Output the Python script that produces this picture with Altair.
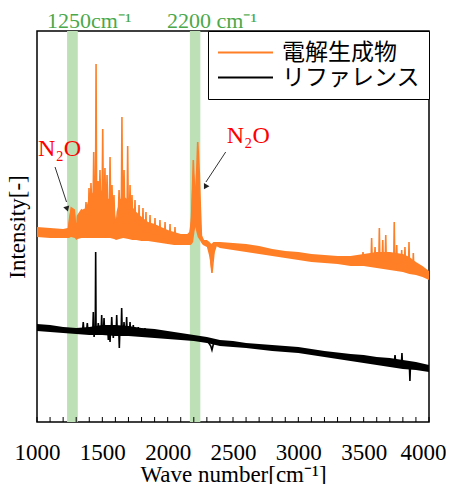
import altair as alt
import pandas as pd

SERIF = "Liberation Serif, Times New Roman, serif"
JP = "Liberation Serif, Noto Sans CJK JP, serif"

# ---- data (x in cm^-1, y in arbitrary intensity units) ----
series_names = ["電解生成物", "リファレンス"]
series_colors = ["#ff7f27", "#000000"]

# noisy band envelope of the orange spectrum
orange_band_x = [1000, 1100, 1200, 1235, 1245, 1260, 1290, 1300, 1310, 1340, 1375, 1400, 1430, 1460,
                 1490, 1520, 1560, 1590, 1605, 1630, 1660, 1700, 1730, 1760, 1800, 1850, 1900, 1950,
                 2000, 2050, 2100, 2150, 2165, 2175, 2185, 2195, 2205, 2212, 2220, 2230, 2240, 2250,
                 2258, 2270, 2300, 2320, 2335, 2350, 2370, 2400, 2500, 2600, 2700, 2800, 2900, 3000,
                 3100, 3200, 3300, 3400, 3500, 3600, 3700, 3800, 3850, 3900, 3950, 4000]
orange_band_hi = [195, 194, 193, 194, 205, 214, 212, 192, 206, 212, 214, 225, 230, 236,
                  232, 226, 222, 215, 196, 222, 226, 222, 215, 210, 205, 200, 198, 195,
                  192, 190, 188, 188, 190, 200, 230, 255, 245, 235, 250, 270, 250, 215,
                  190, 182, 182, 180, 178, 180, 180, 180, 179, 178, 176, 173, 171, 170,
                  168, 167, 166, 166, 168, 170, 170, 168, 165, 160, 156, 151]
orange_band_lo = [185, 184, 184, 184, 184, 185, 184, 182, 183, 184, 184, 184, 184, 184,
                  184, 184, 184, 183, 182, 183, 184, 183, 182, 182, 181, 181, 180, 179,
                  178, 177, 177, 177, 177, 177, 178, 180, 190, 195, 190, 185, 183, 181,
                  179, 177, 175, 165, 150, 165, 176, 174, 172, 170, 168, 166, 164, 162,
                  160, 159, 158, 156, 156, 154, 152, 150, 148, 147, 145, 142]

# orange spikes (line)
orange_line_x = [1000, 1240, 1262, 1285, 1300, 1310, 1340, 1370, 1375, 1380, 1395, 1398, 1402, 1410,
                 1413, 1418, 1430, 1434, 1438, 1448, 1452, 1456, 1463, 1467, 1471, 1478, 1482, 1486,
                 1499, 1503, 1507, 1516, 1520, 1524, 1532, 1536, 1540, 1555, 1559, 1563, 1570, 1574,
                 1578, 1585, 1589, 1593, 1605, 1615, 1624, 1628, 1632, 1646, 1650, 1654, 1662, 1666,
                 1670, 1690, 1694, 1698, 1708, 1712, 1716, 1723, 1727, 1731, 1746, 1750, 1754, 1777,
                 1781, 1785, 1807, 1811, 1815, 1830, 1834, 1838, 1861, 1865, 1869, 1899, 1903, 1907,
                 1937, 1941, 1945, 1976, 1980, 1984, 2014, 2018, 2022, 2052, 2056, 2060, 2170, 2185,
                 2196, 2205, 2217, 2230, 2242, 2250, 2258, 2280, 2320, 2339, 2355, 2375, 2480, 2600,
                 3000, 3400, 3490, 3495, 3500, 3557, 3561, 3565, 3583, 3587, 3591, 3616, 3620, 3624,
                 3642, 3646, 3650, 3665, 3669, 3673, 3692, 3696, 3700, 3730, 3734, 3738, 3749, 3753,
                 3757, 3787, 3791, 3795, 3812, 3816, 3820, 3843, 3847, 3851, 3876, 3880, 3884, 4000]
orange_line_y = [190, 190, 214, 212, 188, 206, 212, 208, 220, 210, 215, 234, 215, 220,
                 239, 220, 225, 270, 225, 228, 358, 228, 230, 241, 228, 230, 252, 228,
                 230, 293, 226, 225, 254, 222, 222, 247, 220, 222, 265, 218, 215, 237,
                 212, 210, 227, 208, 195, 210, 215, 232, 218, 222, 305, 222, 222, 252,
                 220, 220, 276, 218, 212, 237, 210, 208, 227, 206, 202, 222, 200, 198,
                 217, 196, 194, 214, 192, 192, 210, 190, 190, 207, 189, 188, 204, 187,
                 186, 202, 185, 184, 200, 184, 183, 198, 183, 182, 195, 182, 182, 205,
                 262, 230, 229, 280, 249, 215, 186, 180, 176, 149, 170, 178, 176, 174,
                 166, 161, 162, 170, 162, 162, 184, 162, 162, 175, 162, 162, 194, 162,
                 162, 182, 161, 161, 187, 161, 160, 170, 160, 160, 200, 159, 159, 177,
                 158, 157, 172, 157, 156, 175, 156, 155, 180, 154, 153, 169, 152, 147]

# noisy band envelope of the black spectrum
black_band_x = [1000, 1100, 1200, 1300, 1400, 1500, 1600, 1700, 1800, 1900, 2000, 2100, 2200, 2300,
                2400, 2500, 2600, 2800, 3000, 3200, 3400, 3500, 3600, 3700, 3800, 3900, 4000]
black_band_hi = [98, 97, 95, 94, 95, 97, 97, 96, 94, 93, 91, 89, 87, 85,
                 82, 81, 79, 77, 75, 71, 68, 67, 65, 64, 62, 60, 57]
black_band_lo = [91, 90, 89, 88, 87, 87, 86, 86, 85, 84, 83, 82, 81, 79,
                 76, 75, 74, 71, 69, 65, 61, 59, 57, 55, 53, 52, 50]

# black spikes (line)
black_line_x = [1000, 1350, 1354, 1358, 1381, 1385, 1389, 1402, 1406, 1410, 1427, 1431, 1434, 1437,
                1440, 1446, 1449, 1452, 1465, 1469, 1473, 1491, 1495, 1499, 1509, 1513, 1517, 1542,
                1546, 1550, 1555, 1559, 1563, 1568, 1572, 1576, 1580, 1584, 1588, 1606, 1610, 1614,
                1626, 1630, 1634, 1644, 1648, 1652, 1662, 1666, 1670, 1682, 1686, 1690, 1708, 1712,
                1716, 1733, 1737, 1741, 1771, 1775, 1779, 1822, 1826, 1830, 2300, 2330, 2339, 2350,
                2370, 3000, 3735, 3740, 3745, 3789, 3793, 3797, 3850, 3854, 3858, 4000]
black_line_y = [94, 93, 100, 93, 93, 99, 93, 92, 89, 92, 92, 110, 92, 85,
                92, 92, 170, 92, 92, 99, 92, 92, 107, 92, 92, 104, 92, 92,
                82, 92, 92, 80, 92, 92, 105, 92, 92, 84, 92, 91, 107, 91,
                91, 74, 91, 91, 114, 91, 91, 100, 91, 90, 105, 90, 90, 100,
                90, 89, 97, 89, 88, 95, 88, 88, 94, 87, 82, 76, 72, 78,
                80, 72, 60, 67, 60, 58, 69, 58, 56, 41, 56, 54]

# highlighted bands and their labels
band_start = [1230, 2170]
band_end = [1312, 2250]
band_label = ["1250cm⁻¹", "2200 cm⁻¹"]
band_label_x = [1077, 1995]
band_label_y = [394, 394]

# annotations
note_text = ["N₂O", "N₂O"]
note_x = [1008, 2452]
note_y = [266, 279]
arrow_x = [1138, 2444]
arrow_y = [255, 270]
arrow_x2 = [1226, 2293]
arrow_y2 = [220, 240]
head_x = [1230, 2288]
head_y = [213, 235]
head_angle = [343, 30]

major_ticks = [1000, 1500, 2000, 2500, 3000, 3500, 4000]
minor_ticks = list(range(1000, 4001, 100))

# ---- tables ----
orange_band = pd.DataFrame({"x": orange_band_x, "hi": orange_band_hi, "lo": orange_band_lo})
black_band = pd.DataFrame({"x": black_band_x, "hi": black_band_hi, "lo": black_band_lo})
lines = pd.concat([
    pd.DataFrame({"x": orange_line_x, "y": orange_line_y, "series": series_names[0]}),
    pd.DataFrame({"x": black_line_x, "y": black_line_y, "series": series_names[1]}),
])
bands = pd.DataFrame({"x": band_start, "x2": band_end})
band_text = pd.DataFrame({"x": band_label_x, "y": band_label_y, "t": band_label})
notes = pd.DataFrame({"x": note_x, "y": note_y, "t": note_text})
arrows = pd.DataFrame({"x": arrow_x, "y": arrow_y, "x2": arrow_x2, "y2": arrow_y2})
heads = pd.DataFrame({"x": head_x, "y": head_y, "a": head_angle})
ticks = pd.DataFrame({"x": minor_ticks})

xscale = alt.Scale(domain=[1000, 4000], nice=False, zero=False)
yscale = alt.Scale(domain=[0, 391], nice=False, zero=False)

x_axis = alt.Axis(values=major_ticks, title="Wave number[cm⁻¹]", ticks=False, domain=False, grid=False,
                  labelFont=SERIF, labelFontSize=23, labelColor="black", labelPadding=19, format="d",
                  labelOffset=alt.condition("datum.value == 4000", alt.value(-6), alt.value(0)),
                  titleFont=SERIF, titleFontSize=23, titleFontWeight="normal", titleColor="black",
                  titlePadding=-1, labelFlush=False)
y_axis = alt.Axis(title="Intensity[-]", labels=False, ticks=False, domain=False, grid=False,
                  titleFont=SERIF, titleFontSize=23, titleFontWeight="normal", titleColor="black",
                  titlePadding=8)


def X(field):
    return alt.X(field, type="quantitative", scale=xscale, axis=x_axis)


def Y(field):
    return alt.Y(field, type="quantitative", scale=yscale, axis=y_axis)


green = alt.Chart(bands).mark_rect(color="#bde0b6").encode(x=X("x"), x2="x2:Q")

oband = alt.Chart(orange_band).mark_area(color=series_colors[0], opacity=1).encode(
    x=X("x"), y=Y("hi"), y2="lo:Q")
bband = alt.Chart(black_band).mark_area(color=series_colors[1], opacity=1).encode(
    x=X("x"), y=Y("hi"), y2="lo:Q")

line = alt.Chart(lines).mark_line(strokeWidth=1.6).encode(
    x=X("x"), y=Y("y"),
    color=alt.Color("series:N", sort=series_names,
                    scale=alt.Scale(domain=series_names, range=series_colors),
                    legend=alt.Legend(title=None, orient="top-right", offset=0, symbolType="stroke",
                                      symbolSize=3025, symbolStrokeWidth=2, clipHeight=25,
                                      labelFont=JP, labelFontSize=23, labelColor="black",
                                      labelOffset=8, padding=9, rowPadding=0,
                                      strokeColor="black", fillColor="white")),
)

tick_rules = alt.Chart(ticks).mark_rule(color="black", strokeWidth=1).encode(
    x=X("x"), y=alt.value(391), y2=alt.value(386))

btext = alt.Chart(band_text).mark_text(align="left", baseline="alphabetic", font=SERIF,
                                       fontSize=22, color="#4aa84a").encode(
    x=X("x"), y=Y("y"), text="t:N")

ntext = alt.Chart(notes).mark_text(align="left", baseline="alphabetic", font=SERIF,
                                   fontSize=24, color="#ff0000").encode(
    x=X("x"), y=Y("y"), text="t:N")

arrow_lines = alt.Chart(arrows).mark_rule(color="#333333", strokeWidth=1).encode(
    x=X("x"), y=Y("y"), x2="x2:Q", y2="y2:Q")

arrow_heads = alt.Chart(heads).mark_point(shape="triangle-down", filled=True, size=40,
                                          color="#222222", opacity=1).encode(
    x=X("x"), y=Y("y"), angle=alt.Angle("a:Q", scale=None))

chart = alt.layer(green, oband, bband, line, tick_rules, btext, ntext, arrow_lines, arrow_heads).properties(
    width=392, height=391,
    padding={"left": 29, "top": 23, "right": 17, "bottom": 62},
    autosize=alt.AutoSizeParams(type="none"),
).configure_view(stroke="black", strokeWidth=1.5)

chart.save("out.html", embed_options={"renderer": "svg", "actions": False})
